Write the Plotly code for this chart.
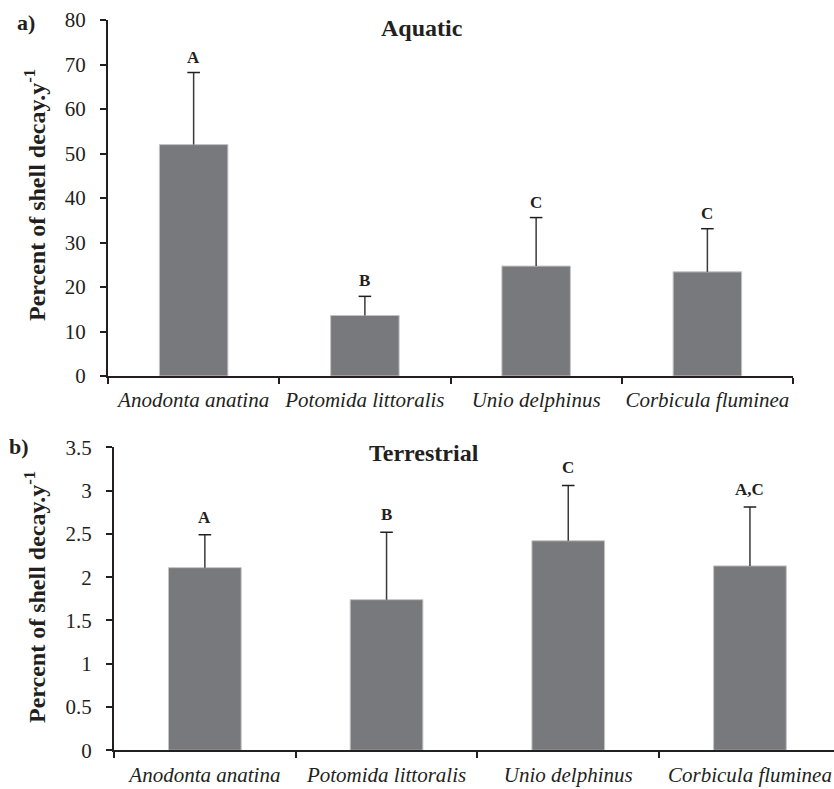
import plotly.graph_objects as go

species = ["Anodonta anatina", "Potomida littoralis", "Unio delphinus", "Corbicula fluminea"]

aquatic_mean = [52.0, 13.6, 24.7, 23.4]
aquatic_upper = [68.2, 17.9, 35.6, 33.1]
aquatic_letters = ["A", "B", "C", "C"]

terrestrial_mean = [2.11, 1.74, 2.42, 2.13]
terrestrial_upper = [2.49, 2.52, 3.06, 2.81]
terrestrial_letters = ["A", "B", "C", "A,C"]

W, H = 834, 789
BAR_COLOR = "#78797d"
TXT = "#231f20"
SERIF = "Liberation Serif"

fig = go.Figure()


def add_panel(mean, upper, letters, xa, ya, yshift):
    plus = [u - m for u, m in zip(upper, mean)]
    fig.add_trace(go.Bar(
        x=species, y=mean, xaxis=xa, yaxis=ya, width=0.4,
        marker=dict(color=BAR_COLOR, line=dict(color="#c4c4c6", width=1)),
        error_y=dict(type="data", array=plus, arrayminus=[0] * len(plus),
                     symmetric=False, width=0, thickness=1.5, color="#3a3a3c"),
        showlegend=False, hoverinfo="skip"))
    fig.add_trace(go.Scatter(
        x=species, y=upper, xaxis=xa, yaxis=ya, mode="markers",
        marker=dict(symbol="line-ew", size=9, line=dict(color=TXT, width=1.5)),
        showlegend=False, hoverinfo="skip"))
    for s, u, l in zip(species, upper, letters):
        fig.add_annotation(x=s, y=u, xref=xa, yref=ya, text="<b>%s</b>" % l,
                           showarrow=False, yanchor="bottom", yshift=yshift,
                           font=dict(family=SERIF, size=17, color=TXT))


add_panel(aquatic_mean, aquatic_upper, aquatic_letters, "x", "y", 4)
add_panel(terrestrial_mean, terrestrial_upper, terrestrial_letters, "x2", "y2", 6)

axis_common = dict(showline=True, linecolor=TXT, linewidth=2, showgrid=False,
                   zeroline=False, ticks="outside", tickcolor=TXT, tickwidth=1.5,
                   mirror=False, automargin=False)

xtick_text = ["<i>%s</i>" % s for s in species]
tickfont = dict(family=SERIF, size=21, color=TXT)

fig.update_layout(
    xaxis=dict(axis_common, domain=[108 / W, 793 / W], anchor="y",
               range=[-0.5, 3.5], tickson="boundaries", ticklen=6,
               tickfont=tickfont, tickangle=0, ticklabelstandoff=4,
               tickvals=species, ticktext=xtick_text),
    yaxis=dict(axis_common, domain=[1 - 376 / H, 1 - 20 / H], anchor="x",
               range=[0, 80], tickvals=[0, 10, 20, 30, 40, 50, 60, 70, 80],
               ticklen=6, ticklabelstandoff=10, tickfont=tickfont),
    xaxis2=dict(axis_common, domain=[114 / W, 1.0], anchor="y2",
                range=[-0.5, -0.5 + (834 - 114) / 181.7], tickson="boundaries",
                ticklen=6, ticklabelstandoff=4, tickfont=tickfont, tickangle=0,
                tickvals=species, ticktext=xtick_text),
    yaxis2=dict(axis_common, domain=[1 - 750.3 / H, 1 - 447.3 / H], anchor="x2",
                range=[0, 3.5], tickvals=[0, 0.5, 1, 1.5, 2, 2.5, 3, 3.5],
                ticktext=["0", "0.5", "1", "1.5", "2", "2.5", "3", "3.5"],
                ticklen=6, ticklabelstandoff=10, tickfont=tickfont),
    width=W, height=H,
    margin=dict(l=0, r=0, t=0, b=0, autoexpand=False),
    paper_bgcolor="white", plot_bgcolor="white",
)

ann_font_title = dict(family=SERIF, size=24, color=TXT)
fig.add_annotation(x=421.5 / W, y=1 - 28 / H, xref="paper", yref="paper",
                   text="<b>Aquatic</b>", showarrow=False, font=ann_font_title,
                   xanchor="center", yanchor="middle")
fig.add_annotation(x=424 / W, y=1 - 453 / H, xref="paper", yref="paper",
                   text="<b>Terrestrial</b>", showarrow=False, font=ann_font_title,
                   xanchor="center", yanchor="middle")
fig.add_annotation(x=26 / W, y=1 - 23 / H, xref="paper", yref="paper",
                   text="<b>a)</b>", showarrow=False,
                   font=dict(family=SERIF, size=22, color=TXT),
                   xanchor="center", yanchor="middle")
fig.add_annotation(x=19 / W, y=1 - 447 / H, xref="paper", yref="paper",
                   text="<b>b)</b>", showarrow=False,
                   font=dict(family=SERIF, size=22, color=TXT),
                   xanchor="center", yanchor="middle")
ytitle = "<b>Percent of shell decay.y<sup>-1</sup></b>"
for yc in (1 - 195 / H, 1 - 597 / H):
    fig.add_annotation(x=35 / W, y=yc, xref="paper", yref="paper",
                       text=ytitle, showarrow=False, textangle=-90,
                       font=dict(family=SERIF, size=24, color=TXT),
                       xanchor="center", yanchor="middle")

fig.write_html(
    "out.html",
    config={"displayModeBar": False},
    post_script="document.body.style.margin='0';document.body.style.overflow='hidden';",
)
